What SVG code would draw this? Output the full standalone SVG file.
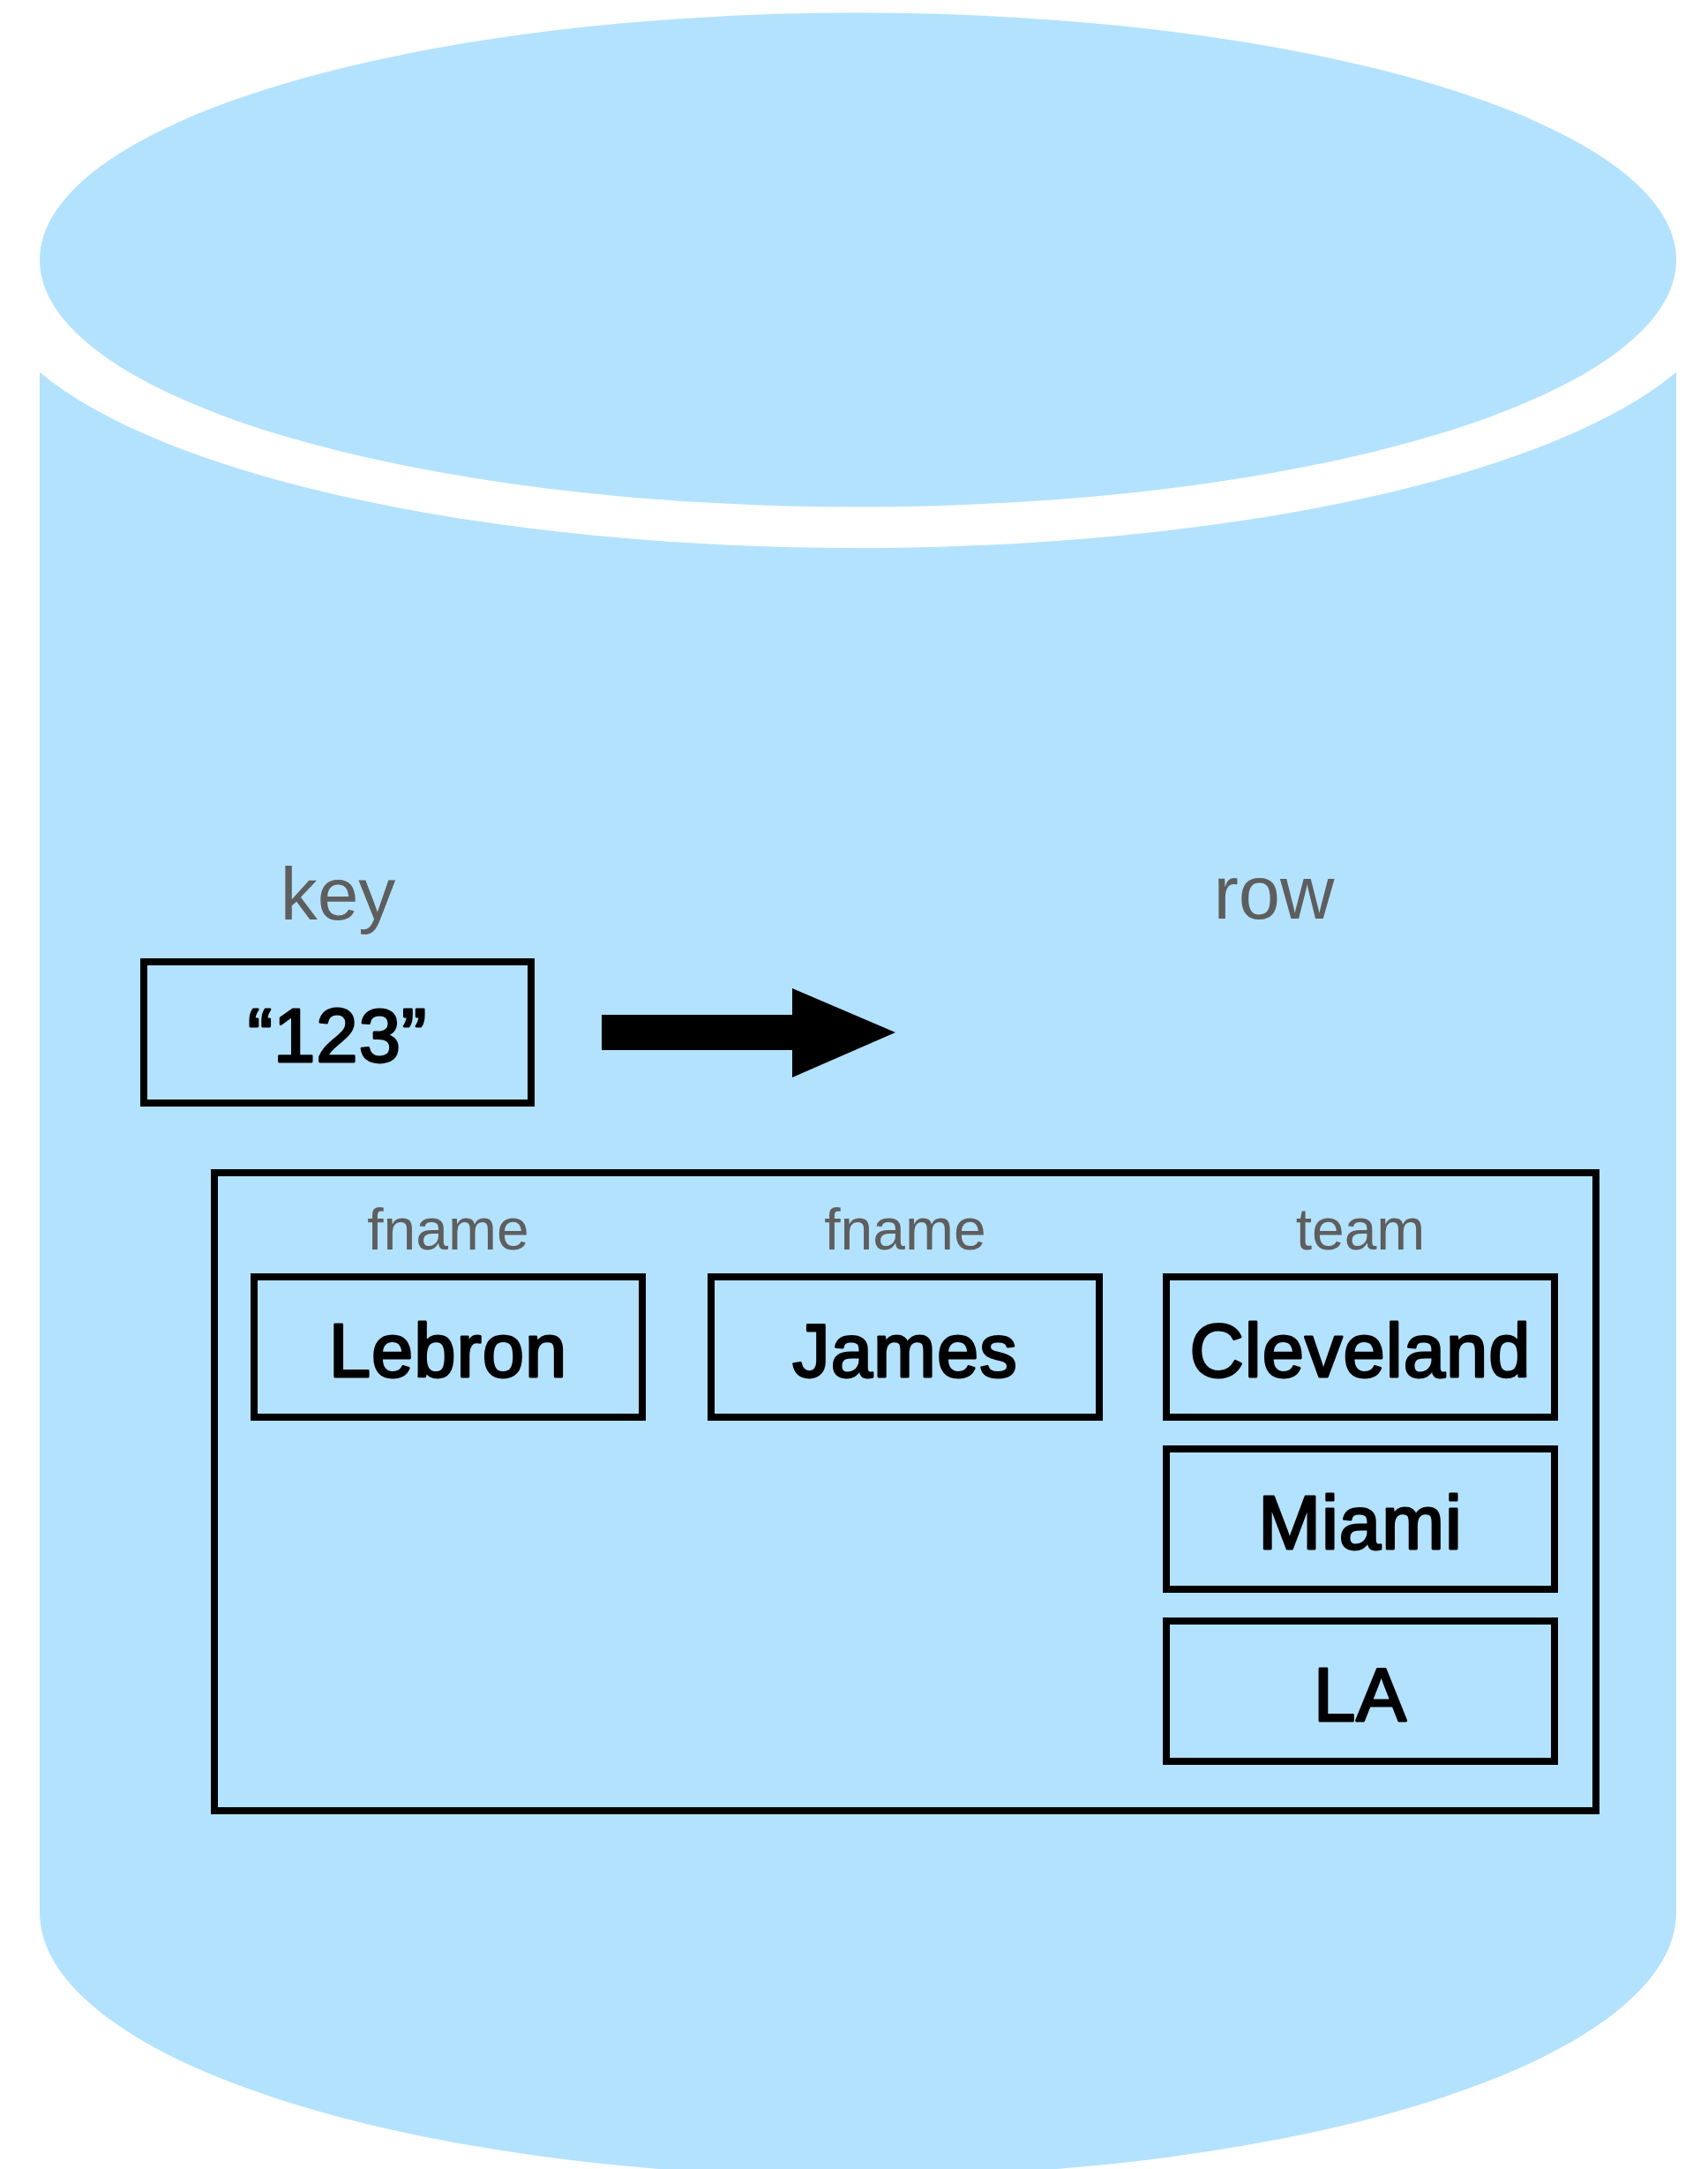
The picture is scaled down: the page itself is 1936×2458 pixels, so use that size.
<svg xmlns="http://www.w3.org/2000/svg" width="1936" height="2458" viewBox="0 0 1936 2458">
  <style>
    .db { fill: #b3e2fe; }
    .box { fill: none; stroke: #000; stroke-width: 8; }
    .lbl { font-family: "Liberation Sans", Arial, sans-serif; fill: #5e5e5e; text-anchor: middle; }
    .val { font-family: "Liberation Sans", Arial, sans-serif; fill: #000; stroke: #000; stroke-width: 2.8; stroke-linejoin: round; letter-spacing: 1px; text-anchor: middle; font-size: 85px; }
  </style>
  <rect width="1936" height="2458" fill="#fff"/>
  <g id="database">
    <path class="db" d="M45,421.7 A987,303 0 0 0 1900,421.7 L1900,2167 A927.5,300 0 0 1 45,2167 Z"/>
    <ellipse class="db" cx="972.5" cy="294.5" rx="927.5" ry="280"/>
  </g>
  <g id="key">
    <text class="lbl" x="383" y="1042" font-size="84">key</text>
    <rect class="box" x="163" y="1090" width="439" height="160"/>
    <text class="val" x="382.5" y="1203">“123”</text>
  </g>
  <g id="connectors">
    <polygon points="682,1150 898,1150 898,1120 1015,1170 898,1221 898,1190 682,1190" fill="#000"/>
  </g>
  <g id="row">
    <text class="lbl" x="1444" y="1041" font-size="85">row</text>
    <rect class="box" x="243" y="1329" width="1566" height="723"/>
  </g>
  <g id="col-fname-1">
    <text class="lbl" x="508" y="1416" font-size="66">fname</text>
  </g>
  <g id="cell-lebron">
    <rect class="box" x="288" y="1447" width="440" height="159"/>
    <text class="val" x="508" y="1560">Lebron</text>
  </g>
  <g id="col-fname-2">
    <text class="lbl" x="1026" y="1416" font-size="66">fname</text>
  </g>
  <g id="cell-james">
    <rect class="box" x="806" y="1447" width="440" height="159"/>
    <text class="val" x="1026" y="1560">James</text>
  </g>
  <g id="col-team">
    <text class="lbl" x="1542" y="1416" font-size="66">team</text>
  </g>
  <g id="cell-cleveland">
    <rect class="box" x="1322" y="1447" width="440" height="159"/>
    <text class="val" x="1542" y="1560">Cleveland</text>
  </g>
  <g id="cell-miami">
    <rect class="box" x="1322" y="1642" width="440" height="159"/>
    <text class="val" x="1542" y="1755">Miami</text>
  </g>
  <g id="cell-la">
    <rect class="box" x="1322" y="1837" width="440" height="159"/>
    <text class="val" x="1542" y="1950">LA</text>
  </g>
</svg>
